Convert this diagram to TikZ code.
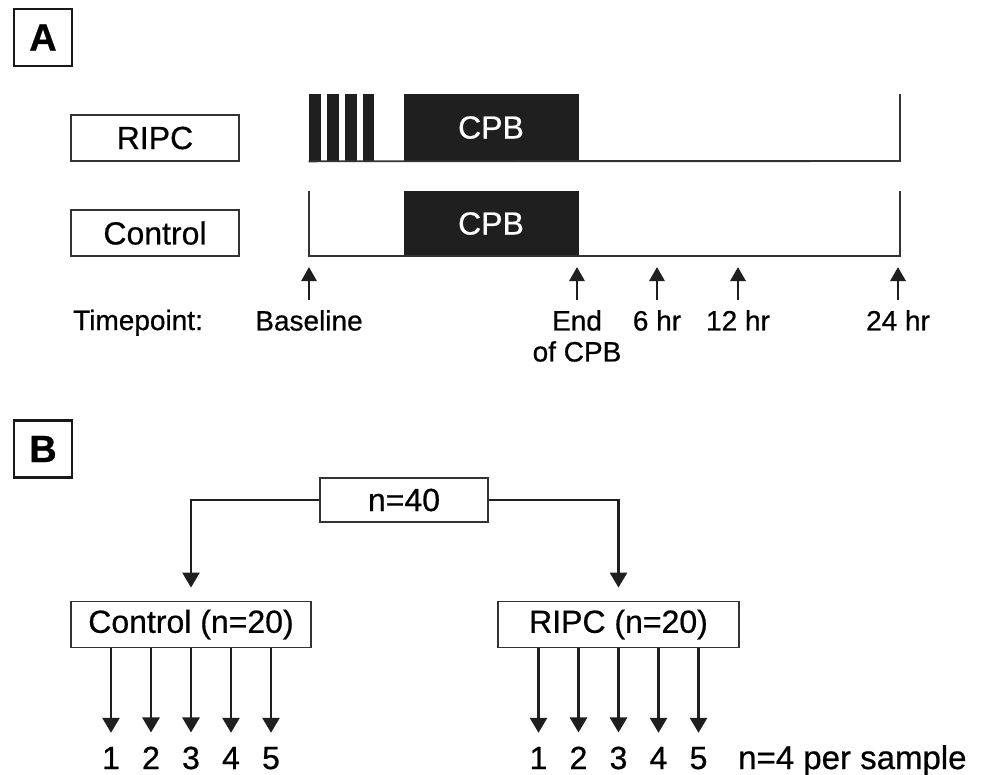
\documentclass[tikz,border=0pt]{standalone}
\usepackage{fontspec}
\setmainfont{Liberation Sans}[FakeBold=0.6]
\usetikzlibrary{arrows.meta}
\begin{document}
\begin{tikzpicture}[x=1pt,y=-1pt,
  tline/.style={line width=1.9pt, draw=black!80},
  box/.style={draw=black!80, line width=1.8pt, fill=white, minimum height=46pt, inner sep=0pt, font=\fontsize{32}{38}\selectfont},
  panel/.style={draw=black!90, line width=2.6pt, minimum width=58pt, minimum height=57pt, inner sep=0pt, font=\fontsize{38}{44}\selectfont\bfseries},
  blk/.style={fill=black!88, draw=black!88, line width=0.6pt, inner sep=0pt},
  cpb/.style={blk, text=white, font=\fontsize{32}{38}\selectfont},
  tlabel/.style={inner sep=0pt, font=\fontsize{28}{31}\selectfont, align=center},
  uparr/.style={line width=2.9pt, draw=black!88, -{Triangle[width=15pt,length=14pt]}},
  downarr/.style={line width=2.9pt, draw=black!88, -{Triangle[width=17pt,length=15pt]}},
  num/.style={inner sep=0pt, font=\fontsize{32}{38}\selectfont, anchor=base},
  conn/.style={line width=2.6pt, draw=black!88, -{Triangle[width=17pt,length=15pt]}, shorten >=13pt},
]
\useasboundingbox (0,0) rectangle (982,774);

% ---------- Panel A ----------
\node[panel] (labA) at (43,37.5) {A};
\node[box, minimum width=168pt] (ripcA) at (155,138) {RIPC};
\node[box, minimum width=168pt] (ctrlA) at (155,233) {Control};

% RIPC timeline
\node[blk, minimum width=11pt, minimum height=67pt] (s1) at (314.5,127.5) {};
\node[blk, minimum width=11pt, minimum height=67pt] (s2) at (332.5,127.5) {};
\node[blk, minimum width=11pt, minimum height=67pt] (s3) at (350.5,127.5) {};
\node[blk, minimum width=10pt, minimum height=67pt] (s4) at (368,127.5) {};
\node[cpb, minimum width=174pt, minimum height=67pt] (cpb1) at (491,127.5) {CPB};
\coordinate (r1) at (900,161);
\coordinate (r2) at (900,94);
\draw[tline] (s1.south west) -- (r1) -- (r2);

% Control timeline
\node[cpb, minimum width=174pt, minimum height=65pt] (cpb2) at (491,223.5) {CPB};
\coordinate (c0) at (309,191);
\coordinate (c1) at (309,256);
\coordinate (c2) at (900,256);
\coordinate (c3) at (900,191);
\draw[tline] (c0) -- (c1) -- (c2) -- (c3);

% Timepoints
\node[tlabel, anchor=base west] (tp) at (73,330) {Timepoint:};
\node[tlabel, anchor=north] (bl) at (309,310) {Baseline};
\node[tlabel, anchor=north] (ec) at (577,310) {End\\of CPB};
\node[tlabel, anchor=north] (h6) at (657,310) {6 hr};
\node[tlabel, anchor=north] (h12) at (738,310) {12 hr};
\node[tlabel, anchor=north] (h24) at (898,310) {24 hr};
\foreach \n in {bl,ec,h6,h12,h24}{
  \draw[uparr] ([yshift=10pt]\n.north) -- ([yshift=43pt]\n.north);
}

% ---------- Panel B ----------
\node[panel] (labB) at (43,449) {B};
\node[box, minimum width=168pt, minimum height=44pt] (n40) at (404,500) {n=40};
\node[box, minimum width=240pt] (ctrlB) at (191,624.5) {Control (n=20)};
\node[box, minimum width=241pt] (ripcB) at (618.5,624.5) {RIPC (n=20)};
\draw[conn] (n40.west) -| (ctrlB.north);
\draw[conn] (n40.east) -| (ripcB.north);

\foreach \i/\dx in {1/-80,2/-40,3/0,4/40,5/80}{
  \node[num] (cn\i) at ([xshift=\dx pt]ctrlB.south |- 0,769) {\i};
  \draw[downarr] ([xshift=\dx pt]ctrlB.south) -- ([yshift=14pt]cn\i.north);
  \node[num] (rn\i) at ([xshift=\dx pt]ripcB.south |- 0,769) {\i};
  \draw[downarr] ([xshift=\dx pt]ripcB.south) -- ([yshift=14pt]rn\i.north);
}
\node[num, anchor=base west, font=\fontsize{33}{38}\selectfont] (per) at (738,769) {n=4 per sample};
\end{tikzpicture}
\end{document}
